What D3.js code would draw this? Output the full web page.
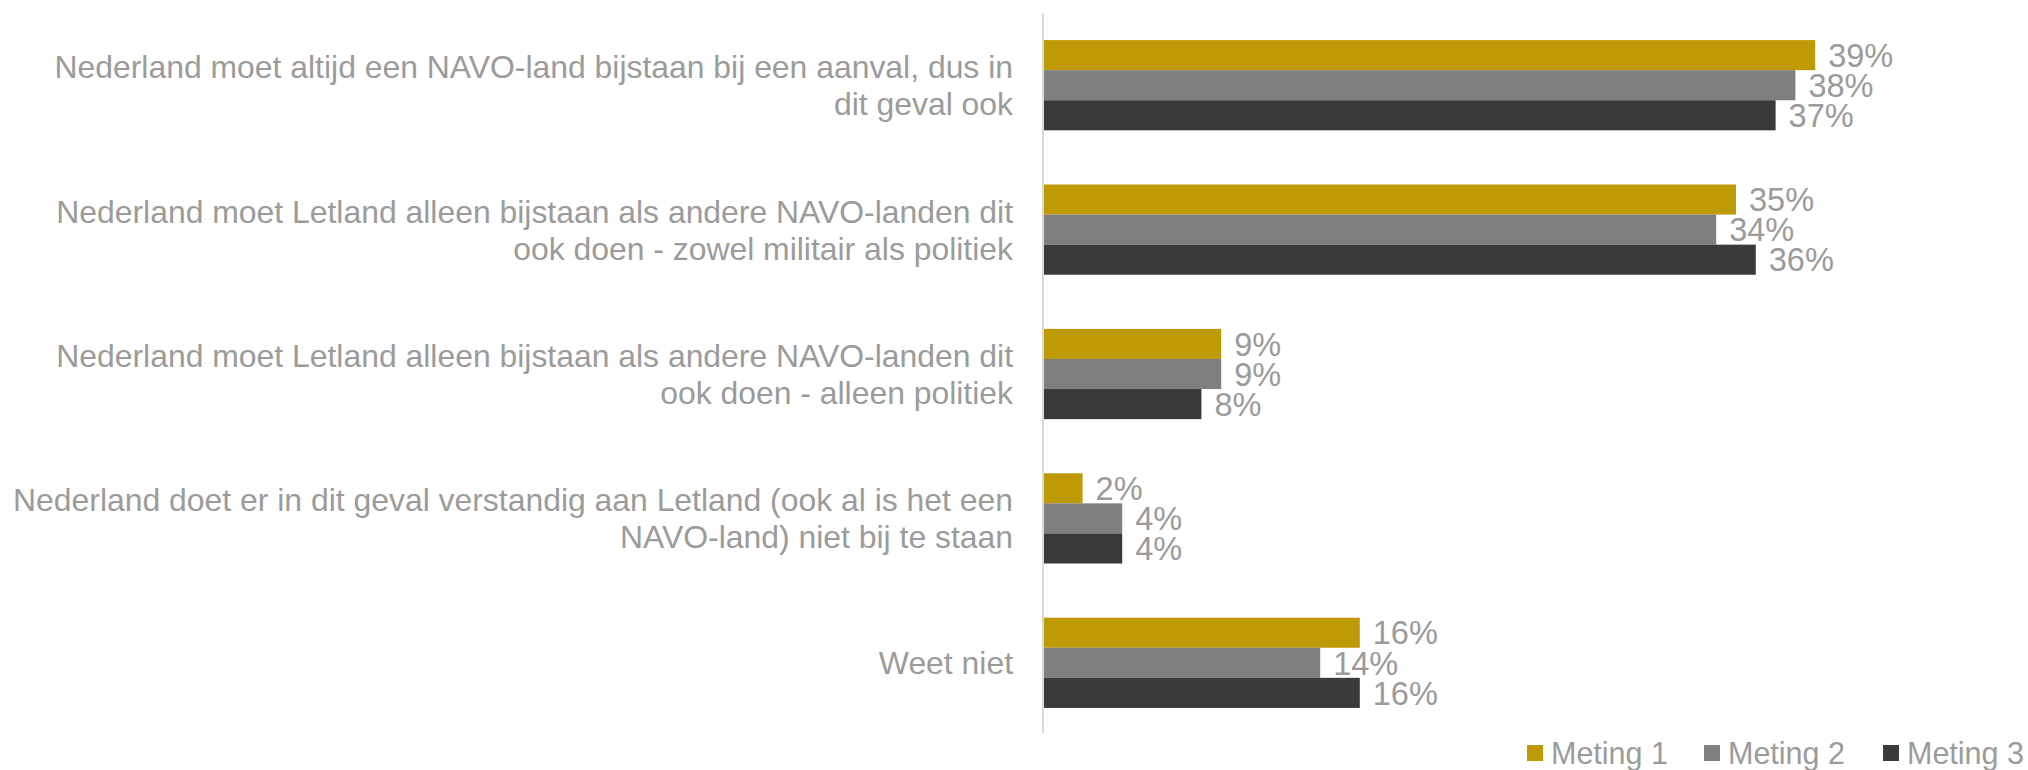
<!DOCTYPE html>
<html>
<head>
<meta charset="utf-8">
<script src="https://cdn.jsdelivr.net/npm/d3@7"></script>
<style>
  html, body { margin: 0; padding: 0; background: #fff; }
  svg { display: block; }
  text { font-family: "Liberation Sans", Arial, sans-serif; fill: #9B9B9B; }
</style>
</head>
<body>
<svg id="chart" width="2028" height="770"></svg>
<script>
const categories = [
  "Nederland moet altijd een NAVO-land bijstaan bij een aanval, dus in\ndit geval ook",
  "Nederland moet Letland alleen bijstaan als andere NAVO-landen dit\nook doen - zowel militair als politiek",
  "Nederland moet Letland alleen bijstaan als andere NAVO-landen dit\nook doen - alleen politiek",
  "Nederland doet er in dit geval verstandig aan Letland (ook al is het een\nNAVO-land) niet bij te staan",
  "Weet niet"
];
const seriesNames = ["Meting 1", "Meting 2", "Meting 3"];
const meting1 = [0.39, 0.35, 0.09, 0.02, 0.16];
const meting2 = [0.38, 0.34, 0.09, 0.04, 0.14];
const meting3 = [0.37, 0.36, 0.08, 0.04, 0.16];
const colors = ["#BF9A07", "#7F7F7F", "#3A3A3A"];

const seriesValues = [meting1, meting2, meting3];
const rows = [];
categories.forEach((c, i) => {
  seriesNames.forEach((s, j) => rows.push({cat: c, series: s, value: seriesValues[j][i]}));
});

const svg = d3.select("#chart");
const axisX = 1043;
const x = d3.scaleLinear().domain([0, 0.45]).range([axisX, axisX + 19.8 * 45]);
const y = d3.scaleBand().domain(categories).range([13, 735]).paddingInner(0.375).paddingOuter(0.1875);
const ySub = d3.scaleBand().domain(seriesNames).range([0, y.bandwidth()]);
const color = d3.scaleOrdinal().domain(seriesNames).range(colors);
const fmt = d3.format(".0%");

// bars
svg.append("g").selectAll("rect").data(rows).join("rect")
  .attr("x", x(0))
  .attr("y", d => y(d.cat) + ySub(d.series))
  .attr("width", d => x(d.value) - x(0))
  .attr("height", ySub.bandwidth())
  .attr("fill", d => color(d.series));

// value labels
svg.append("g").selectAll("text").data(rows).join("text")
  .attr("x", d => x(d.value) + 13)
  .attr("y", d => y(d.cat) + ySub(d.series) + ySub.bandwidth() / 2)
  .attr("dy", "0.36em")
  .attr("font-size", 32.5)
  .text(d => fmt(d.value));

// vertical axis line
svg.append("line")
  .attr("x1", axisX).attr("x2", axisX)
  .attr("y1", 13).attr("y2", 733)
  .attr("stroke", "#D9D9D9").attr("stroke-width", 2);

// category labels
const lineH = 37;
const labels = svg.append("g").selectAll("text").data(categories).join("text")
  .attr("text-anchor", "end")
  .attr("font-size", 31.9)
  .attr("transform", d => `translate(${axisX - 30},${y(d) + y.bandwidth() / 2})`);
labels.each(function(d) {
  const lines = d.split("\n");
  const t = d3.select(this);
  const off = -(lines.length - 1) * lineH / 2;
  lines.forEach((ln, k) => {
    t.append("tspan").attr("x", 0).attr("y", off + k * lineH).attr("dy", "0.36em").text(ln);
  });
});

// legend
const legendX = [1527, 1704, 1883];
const lg = svg.append("g").selectAll("g").data(seriesNames).join("g")
  .attr("transform", (d, i) => `translate(${legendX[i]},745)`);
lg.append("rect").attr("width", 16).attr("height", 16).attr("fill", d => color(d));
lg.append("text").attr("x", 24).attr("y", 8).attr("dy", "0.35em")
  .attr("font-size", 30.5).text(d => d);
</script>
</body>
</html>
